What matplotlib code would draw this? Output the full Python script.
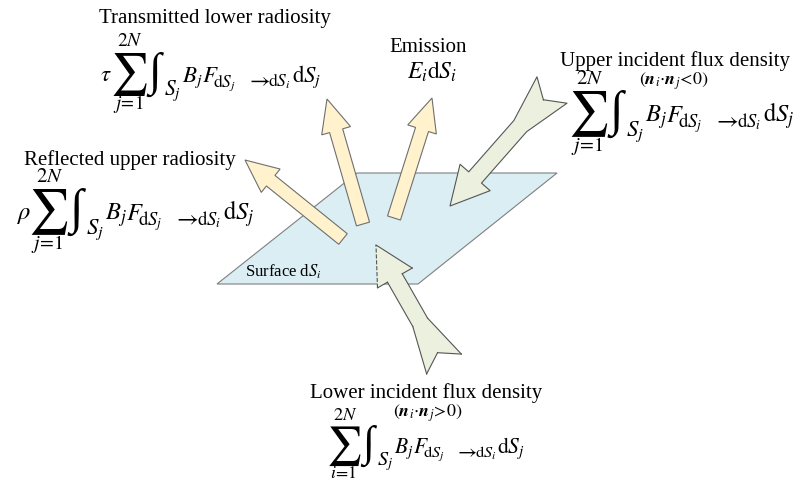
import numpy as np
import matplotlib
matplotlib.use('Agg')
import matplotlib.pyplot as plt
from matplotlib.patches import Polygon

plt.rcParams['font.family'] = ['Liberation Serif', 'DejaVu Serif']
plt.rcParams['mathtext.fontset'] = 'stix'

# surface dS_i (pixel coords of the reference)
surface_x = [217, 357, 557, 418]
surface_y = [284, 173, 173, 284]

# outgoing block arrows: tail -> tip
out_tails = [(343, 239), (363, 224), (394, 218)]
out_tips = [(245, 160), (327, 99), (432, 98)]

# incident arrows with swallow tail
in_tails = [(552, 90), (444, 364)]
in_tips = [(450, 206), (376, 245)]

labels = ['Transmitted lower radiosity', 'Emission', 'Upper incident flux density',
          'Reflected upper radiosity', 'Lower incident flux density']
label_xy = [(215, 19), (428, 48), (675, 61), (130, 160), (426, 393)]

# equations: prefix, lower limit, left of sum, baseline, scale
eq_prefix = [r'$\tau$', r'$\rho$', '', '']
eq_lower = [r'$j\!=\!1$', r'$j\!=\!1$', r'$j\!=\!1$', r'$i\!=\!1$']
eq_pos = [(112, 82), (30, 220), (570, 122), (328, 453)]
eq_scale = [1.0, 1.07, 1.07, 0.94]


def local_to_xy(tail, tip, pts):
    t = np.array(tail, float)
    d = np.array(tip, float) - t
    L = np.hypot(*d)
    d = d / L
    n = np.array([-d[1], d[0]])
    return np.array([t + u * d + v * n for u, v in pts]), L


def block_arrow(ax, tail, tip, sw=6.8, hw=15, hl=33):
    _, L = local_to_xy(tail, tip, [(0, 0)])
    pts = [(0, -sw), (L - hl, -sw), (L - hl, -hw), (L, 0),
           (L - hl, hw), (L - hl, sw), (0, sw)]
    xy, _ = local_to_xy(tail, tip, pts)
    ax.add_patch(Polygon(xy, closed=True, fc='#FFF2CC', ec='#6f6f6f', lw=0.8, zorder=3))


def tail_arrow(ax, tail, tip, tw=20, sw=8.5, hw=20, hl=38, uk=48, un=13, dash=False):
    _, L = local_to_xy(tail, tip, [(0, 0)])
    pts = [(un, 0), (0, -tw), (uk, -sw), (L - hl, -sw), (L - hl, -hw), (L, 0),
           (L - hl, hw), (L - hl, sw), (uk, sw), (0, tw)]
    xy, _ = local_to_xy(tail, tip, pts)
    ax.add_patch(Polygon(xy, closed=True, fc='#EBF1DE', ec='none', zorder=3))
    ring = np.vstack([xy, xy[:1]])
    if not dash:
        ax.plot(ring[:, 0], ring[:, 1], color='#555555', lw=0.8, zorder=4)
        return
    # head edge on the hidden side is dashed
    hid = 4 if xy[4][0] < xy[6][0] else 6
    for i in range(len(xy)):
        a, b = ring[i], ring[i + 1]
        ls = '--' if {i, i + 1} == {hid, 5} else '-'
        ax.plot([a[0], b[0]], [a[1], b[1]], color='#555555', lw=0.8, ls=ls, zorder=4)


def draw_eq(ax, x0, yb, prefix, lower, k=1.0):
    def t(dx, dy, s, fs, ha='left', va='baseline'):
        ax.text(x0 + dx * k, yb + dy * k, s, fontsize=fs * k, ha=ha, va=va)
    if prefix:
        t(-12, -1, prefix, 16.5)
    t(17, -7, r'$\sum$', 30, ha='center', va='center')
    t(18, -40, r'$2N$', 14, ha='center', va='center')
    t(16, 22, lower, 13.5, ha='center', va='center')
    t(43, -8, '\u222b', 33, ha='center', va='center')
    t(52, 13, r'$S_j$', 15.5)
    t(70, 0, r'$B_j$', 16.5)
    t(90, 0, r'$F$', 16.5)
    t(101, 5, r'$\mathrm{d}S_j$', 12.5)
    t(134, 4, r'$\rightarrow$', 16)
    t(156, 5, r'$\mathrm{d}S_i$', 12.5)
    t(180, 0, r'$\mathrm{d}S_j$', 16.5)


fig = plt.figure(figsize=(8.03, 4.87), dpi=100)
ax = fig.add_axes([0, 0, 1, 1])
ax.set_xlim(0, 803)
ax.set_ylim(487, 0)
ax.axis('off')

ax.add_patch(Polygon(np.column_stack([surface_x, surface_y]), closed=True,
                     fc='#DAEEF3', ec='#7f7f7f', lw=0.8, zorder=1))

for tl, tp in zip(out_tails, out_tips):
    block_arrow(ax, tl, tp)
tail_arrow(ax, in_tails[0], in_tips[0])
tail_arrow(ax, in_tails[1], in_tips[1], dash=True)

for s, (x, y) in zip(labels, label_xy):
    ax.text(x, y, s, fontsize=15, ha='center', va='center')

for p, lo, (x, y), k in zip(eq_prefix, eq_lower, eq_pos, eq_scale):
    draw_eq(ax, x, y, p, lo, k)

ax.text(432, 79, r'$E_i\mathrm{d}S_i$', fontsize=17, ha='center', va='baseline')
ax.text(674, 81, r'$(\mathbfit{n}_i{\cdot}\mathbfit{n}_j\!<\!0)$', fontsize=13, ha='center', va='center')
ax.text(245, 272, r'Surface d$S_i$', fontsize=12, ha='left', va='center')
ax.text(428, 413, r'$(\mathbfit{n}_i{\cdot}\mathbfit{n}_j\!>\!0)$', fontsize=13, ha='center', va='center')

fig.savefig('out.png', dpi=100)
